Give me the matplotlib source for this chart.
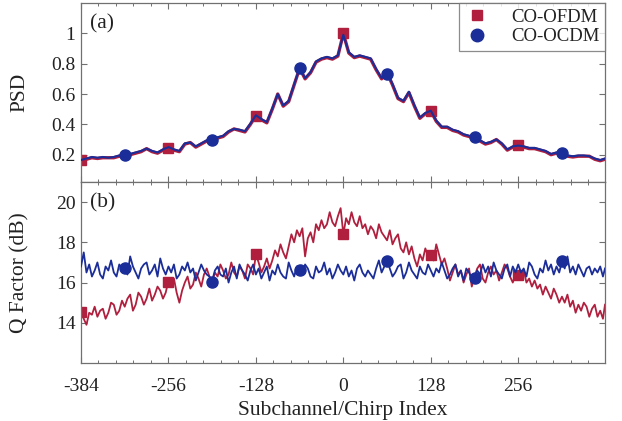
import numpy as np
import matplotlib
matplotlib.use("Agg")
import matplotlib.pyplot as plt
from matplotlib.lines import Line2D
from matplotlib.ticker import MultipleLocator

plt.rcParams['font.family'] = ['Liberation Serif', 'DejaVu Serif']
plt.rcParams['axes.unicode_minus'] = False

# ---------------- data ----------------
psd_x = list(range(-384, 384, 8)) + [383]
psd_ofdm = [
    0.16, 0.17, 0.18, 0.175, 0.18, 0.18, 0.18, 0.19,
    0.19, 0.20, 0.21, 0.22, 0.24, 0.22, 0.21, 0.23,
    0.25, 0.23, 0.22, 0.27, 0.28, 0.25, 0.27, 0.29,
    0.30, 0.31, 0.32, 0.35, 0.37, 0.36, 0.35, 0.40,
    0.46, 0.43, 0.41, 0.50, 0.60, 0.52, 0.55, 0.66,
    0.77, 0.70, 0.74, 0.81, 0.83, 0.84, 0.83, 0.85,
    1.00, 0.87, 0.84, 0.85, 0.84, 0.83, 0.76, 0.70,
    0.74, 0.66, 0.57, 0.55, 0.61, 0.52, 0.44, 0.47,
    0.49, 0.42, 0.38, 0.38, 0.36, 0.35, 0.33, 0.32,
    0.31, 0.29, 0.27, 0.28, 0.30, 0.27, 0.23, 0.25,
    0.26, 0.25, 0.24, 0.24, 0.23, 0.22, 0.20, 0.21,
    0.21, 0.19, 0.185, 0.19, 0.19, 0.19, 0.17, 0.16,
    0.17]
psd_ocdm = [
    0.165, 0.175, 0.185, 0.18, 0.185, 0.18, 0.185, 0.195,
    0.195, 0.205, 0.215, 0.225, 0.24, 0.225, 0.215, 0.235,
    0.25, 0.235, 0.225, 0.275, 0.28, 0.255, 0.275, 0.295,
    0.30, 0.315, 0.325, 0.355, 0.37, 0.365, 0.355, 0.405,
    0.46, 0.435, 0.415, 0.505, 0.60, 0.525, 0.555, 0.665,
    0.77, 0.705, 0.745, 0.815, 0.835, 0.845, 0.835, 0.855,
    0.99, 0.875, 0.845, 0.855, 0.845, 0.835, 0.765, 0.705,
    0.745, 0.665, 0.575, 0.555, 0.615, 0.525, 0.445, 0.475,
    0.49, 0.425, 0.385, 0.385, 0.365, 0.355, 0.335, 0.325,
    0.315, 0.295, 0.275, 0.285, 0.30, 0.275, 0.235, 0.255,
    0.26, 0.255, 0.245, 0.245, 0.235, 0.225, 0.205, 0.215,
    0.21, 0.195, 0.19, 0.195, 0.195, 0.19, 0.175, 0.165,
    0.175]

q_x = list(range(-384, 384, 4)) + [383]
q_ofdm = [
    14.6, 14.2, 13.9, 14.5, 14.4, 14.8, 14.3, 14.6, 14.7, 14.2, 14.5, 15.0, 14.9, 14.4, 14.6, 15.1,
    14.8, 15.2, 15.4, 14.6, 14.9, 15.5, 15.3, 14.9, 15.2, 15.7, 15.1, 15.4, 15.8, 15.6, 15.2, 15.5,
    16.1, 15.8, 16.2, 15.5, 15.0, 15.6, 16.0, 16.3, 15.7, 15.9, 16.5, 16.2, 15.8, 16.4, 16.7, 16.3,
    16.0, 16.5, 16.3, 16.9, 16.6, 16.2, 16.4, 17.0, 16.5, 16.3, 16.8, 16.6, 16.2, 16.9, 16.7, 16.4,
    17.4, 17.0, 16.5, 16.8, 17.2, 16.7, 17.1, 17.6, 17.3, 17.9, 17.5, 17.2, 17.8, 18.4, 18.0, 18.6,
    18.3, 18.7, 17.3, 18.2, 18.5, 18.0, 18.9, 18.6, 19.1, 18.7, 18.9, 19.5, 19.0, 18.8, 19.3, 19.7,
    18.4, 19.2, 18.9, 19.5, 19.0, 18.8, 19.3, 18.7, 18.9, 18.4, 18.8, 18.6, 18.2, 18.9, 18.5, 18.3,
    18.1, 18.6, 17.9, 18.2, 18.4, 17.7, 17.5, 18.0, 17.4, 17.8, 17.2, 16.8, 17.4, 17.1, 17.7, 17.3,
    17.35, 17.1, 17.9, 17.4, 16.9, 17.2, 16.7, 16.1, 16.5, 16.9, 16.4, 16.6, 16.0, 16.4, 16.7, 15.8,
    16.3, 16.7, 16.9, 16.2, 16.0, 16.5, 16.8, 16.4, 16.6, 16.1, 16.5, 16.9, 16.7, 16.3, 16.0, 16.4,
    16.4, 16.2, 16.6, 16.0, 16.2, 15.8, 16.1, 15.7, 15.9, 15.4, 15.8, 15.5, 15.2, 15.7, 15.4, 15.0,
    15.3, 15.0, 15.4, 14.8, 15.1, 14.5, 14.9, 14.6, 15.0, 14.8, 14.3, 14.7, 14.9, 14.3, 14.6, 14.2,
    14.9]
q_ocdm = [
    16.8, 17.5, 16.5, 16.9, 16.3, 16.6, 17.0, 16.4, 16.2, 16.8, 16.6, 17.1, 16.5, 16.3, 16.9, 16.7,
    16.7, 16.4, 17.3, 16.8, 16.5, 16.2, 16.7, 16.9, 17.0, 16.4, 16.6, 16.9, 16.3, 17.2, 16.7, 16.4,
    16.8, 16.5, 16.9, 16.2, 16.4, 16.8, 16.6, 17.0, 16.5, 16.7, 16.1, 16.5, 16.9, 16.6, 16.4, 16.3,
    16.1, 16.6, 16.8, 16.4, 16.3, 16.7, 16.0, 16.5, 16.8, 16.2, 16.9, 16.6, 16.4, 16.1, 16.6, 16.9,
    16.4, 16.7, 16.2, 16.5, 16.8, 16.1, 16.6, 16.4, 16.9, 16.5, 16.3, 16.2, 17.0, 16.6, 16.3, 16.8,
    16.6, 16.4, 16.9, 16.7, 16.3, 16.2, 16.8, 16.5, 16.6, 17.0, 16.4, 16.7, 16.2, 16.5, 16.9, 16.6,
    16.4, 16.8, 16.3, 16.6, 16.1, 16.7, 16.9, 16.5, 16.3, 16.6, 16.4, 16.2, 16.7, 17.1, 16.5, 16.8,
    17.1, 16.7, 16.3, 16.5, 16.8, 16.9, 16.2, 16.5, 17.0, 16.6, 16.4, 16.2, 16.8, 16.5, 16.4, 16.9,
    16.6, 16.3, 16.7, 16.5, 17.0, 16.6, 16.2, 16.4, 16.7, 16.9, 16.3, 16.6, 16.1, 16.7, 16.5, 16.2,
    16.25, 16.6, 16.4, 16.9, 16.5, 16.8, 16.3, 17.0, 16.6, 16.4, 16.2, 16.7, 16.9, 16.3, 16.8, 16.5,
    16.9, 16.5, 16.7, 16.3, 17.0, 16.8, 16.4, 16.2, 16.7, 16.5, 17.1, 16.6, 16.9, 16.4, 16.8, 16.5,
    17.05, 16.7, 17.3, 16.5, 16.8, 16.4, 16.9, 16.6, 16.3, 16.7, 16.8, 16.4, 16.7, 16.5, 16.8, 16.3,
    16.7]

mk_ofdm_x = [-384, -256, -128, 0, 128, 256]
mk_ofdm_psd = [0.165, 0.245, 0.455, 1.0, 0.485, 0.265]
mk_ofdm_q = [14.55, 16.05, 17.4, 18.4, 17.35, 16.4]
mk_ocdm_x = [-320, -192, -64, 64, 192, 320]
mk_ocdm_psd = [0.195, 0.30, 0.77, 0.735, 0.315, 0.21]
mk_ocdm_q = [16.7, 16.05, 16.6, 17.05, 16.25, 17.05]

xticks = [-384, -256, -128, 0, 128, 256]
psd_yticks = [0.2, 0.4, 0.6, 0.8, 1.0]
psd_yticklabels = ['0.2', '0.4', '0.6', '0.8', '1']
q_yticks = [14, 16, 18, 20]

labels = ['CO-OFDM', 'CO-OCDM']

# ---------------- style ----------------
RED = '#B01F3E'
BLUE = '#1B2D98'
SPINE = '#707070'
TXT = '#222222'

fig = plt.figure(figsize=(6.22, 4.21), dpi=100)
W, H = 622, 421
L, R = 81, 605
ax1 = fig.add_axes([L / W, 1 - 182 / H, (R - L) / W, (182 - 3) / H])
ax2 = fig.add_axes([L / W, 1 - 363 / H, (R - L) / W, (363 - 182) / H])

for ax in (ax1, ax2):
    ax.set_xlim(-384, 383)
    ax.set_xticks(xticks)
    ax.xaxis.set_minor_locator(MultipleLocator(25.6))
    ax.tick_params(which='both', direction='in', top=True, right=True,
                   color=SPINE, labelcolor=TXT, labelsize=14)
    ax.tick_params(which='major', length=4.5, width=0.8)
    ax.tick_params(which='minor', length=2.5, width=0.7)
    ax.tick_params(axis='y', pad=4)
    for s in ax.spines.values():
        s.set_color(SPINE)
        s.set_linewidth(0.9)

# top panel: PSD
ax1.plot(psd_x, psd_ofdm, color=RED, lw=2.4, zorder=2)
ax1.plot(mk_ofdm_x, mk_ofdm_psd, ls='none', marker='s', ms=6.5, color=RED, zorder=2.5)
ax1.plot(psd_x, psd_ocdm, color=BLUE, lw=1.5, zorder=3)
ax1.plot(mk_ocdm_x, mk_ocdm_psd, ls='none', marker='o', ms=8, color=BLUE, zorder=3.5)
ax1.set_ylim(0.02, 1.2)
ax1.set_yticks(psd_yticks)
ax1.set_yticklabels(psd_yticklabels)
ax1.tick_params(axis='x', labelbottom=False)
ax1.set_ylabel('PSD', fontsize=15.5, color=TXT)
ax1.yaxis.set_label_coords(-0.098, 0.5)
ax1.text(0.017, 0.94, '(a)', transform=ax1.transAxes, fontsize=15.5,
         va='top', ha='left', color=TXT)

handles = [Line2D([], [], ls='none', marker='s', ms=7, color=RED),
           Line2D([], [], ls='none', marker='o', ms=9, color=BLUE)]
leg = ax1.legend(handles, labels, loc='upper right', fontsize=13.5,
                 frameon=True, fancybox=False, borderaxespad=0,
                 handletextpad=1.1, borderpad=0.3, labelspacing=0.12,
                 handlelength=1.4)
leg.get_frame().set_edgecolor(SPINE)
leg.get_frame().set_linewidth(0.9)
for t in leg.get_texts():
    t.set_color(TXT)

# bottom panel: Q factor
ax2.plot(q_x, q_ofdm, color=RED, lw=1.3, zorder=2)
ax2.plot(mk_ofdm_x, mk_ofdm_q, ls='none', marker='s', ms=6.5, color=RED, zorder=2.5)
ax2.plot(q_x, q_ocdm, color=BLUE, lw=1.3, zorder=3)
ax2.plot(mk_ocdm_x, mk_ocdm_q, ls='none', marker='o', ms=8, color=BLUE, zorder=3.5)
ax2.set_ylim(12, 21)
ax2.set_yticks(q_yticks)
ax2.tick_params(axis='x', pad=11)
ax2.set_ylabel('Q Factor (dB)', fontsize=15.5, color=TXT)
ax2.yaxis.set_label_coords(-0.098, 0.5)
ax2.set_xlabel('Subchannel/Chirp Index', fontsize=15.5, color=TXT, labelpad=4)
ax2.text(0.017, 0.94, '(b)', transform=ax2.transAxes, fontsize=15.5,
         va='top', ha='left', color=TXT)

fig.savefig('out.png', dpi=100)
